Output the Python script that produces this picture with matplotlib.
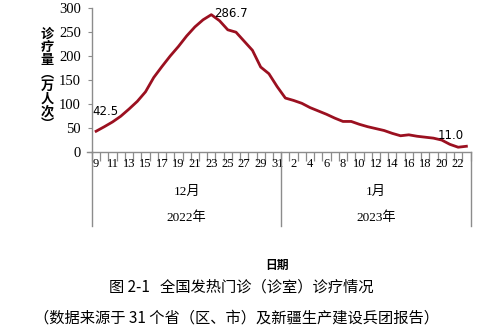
import matplotlib
matplotlib.use("Agg")
import matplotlib.pyplot as plt
import matplotlib.transforms as mtransforms

# daily fever-clinic visits (10k person-times), Dec 9 2022 .. Jan 23 2023
dec_days = list(range(9, 32))
jan_days = list(range(1, 24))
dec_values = [42.5, 52, 62, 74, 89, 105, 125, 155, 178, 200, 220, 242, 261, 276,
              286.7, 274, 255, 250, 231, 212, 177, 163, 136]
jan_values = [112, 107, 101, 92, 85, 78, 70, 63, 63, 57, 52, 48, 44, 38, 33, 35,
              32, 30, 28, 24, 15, 9, 11.0]
months = ["12月", "1月"]
years = ["2022年", "2023年"]
y_ticks = [0, 50, 100, 150, 200, 250, 300]

values = dec_values + jan_values
days = dec_days + jan_days
n = len(values)
xs = list(range(n))

serif = ["Liberation Serif", "Noto Sans CJK SC"]
cjk = ["Noto Sans CJK SC", "DejaVu Sans"]
grey = "#8c8c8c"
red = "#9b1020"

fig = plt.figure(figsize=(5, 3.33), dpi=100)
ax = fig.add_axes([0.184, 0.545, 0.757, 0.430])

ax.plot(xs, values, color=red, linewidth=2.0, solid_joinstyle="round")
ax.set_xlim(-0.5, n - 0.5)
ax.set_ylim(0, 300)

for s in ["top", "right"]:
    ax.spines[s].set_visible(False)
for s in ["left", "bottom"]:
    ax.spines[s].set_color(grey)
    ax.spines[s].set_linewidth(1.0)

ax.set_yticks(y_ticks)
ax.set_yticklabels([str(v) for v in y_ticks], family=serif, fontsize=10.5)
ax.tick_params(axis="y", direction="out", length=3, color=grey, pad=5)

# category boundaries as major ticks, labels at every second centre
ax.set_xticks([i - 0.5 for i in range(n + 1)])
ax.set_xticklabels([])
ax.tick_params(axis="x", which="major", direction="out", length=6.5, color=grey, width=0.9)
label_pos = xs[::2]
ax.set_xticks(label_pos, minor=True)
ax.set_xticklabels([str(days[i]) for i in label_pos], minor=True, family=serif, fontsize=9)
ax.tick_params(axis="x", which="minor", length=0, pad=5)

# group separators for months / years
trans = mtransforms.blended_transform_factory(ax.transData, ax.transAxes)
for xb in [-0.5, len(dec_values) - 0.5, n - 0.5]:
    ax.plot([xb, xb], [0, -0.52], transform=trans, color=grey, linewidth=1.0, clip_on=False)
ax.plot([-1.1, -0.5], [0, 0], transform=trans, color=grey, linewidth=1.0, clip_on=False)

centres = [(len(dec_values) - 1) / 2, len(dec_values) + (len(jan_values) - 1) / 2]
for c, m, yr in zip(centres, months, years):
    ax.text(c, -0.285, m, transform=trans, ha="center", va="center", family=serif, fontsize=9.5)
    ax.text(c, -0.46, yr, transform=trans, ha="center", va="center", family=serif, fontsize=9.5)

# data labels
ax.annotate("42.5", (0, values[0]), xytext=(7, 14), textcoords="offset points",
            ha="center", va="center", fontsize=8.5, family="DejaVu Sans")
peak = values.index(max(values))
ax.annotate("286.7", (peak, values[peak]), xytext=(2, 0.5), textcoords="offset points",
            ha="left", va="center", fontsize=8.5, family="DejaVu Sans")
ax.annotate("11.0", (n - 1, values[-1]), xytext=(-11, 7.5), textcoords="offset points",
            ha="center", va="center", fontsize=8.5, family="DejaVu Sans")

# stacked vertical y label
ylab = ["诊", "疗", "量", "︵", "万", "人", "次", "︶"]
for i, ch in enumerate(ylab):
    fig.text(47 / 500, 1 - (34 + 12.9 * i) / 333, ch, ha="center", va="center",
             family=cjk, fontsize=9.5, fontweight="bold")

fig.text(277 / 500, 1 - 265 / 333, "日期", ha="center", va="center", family=cjk,
         fontsize=8.5, fontweight="bold")
fig.text(241 / 500, 1 - 287 / 333, "图 2-1   全国发热门诊（诊室）诊疗情况",
         ha="center", va="center", family=cjk, fontsize=11)
fig.text(237 / 500, 1 - 318 / 333, "（数据来源于 31 个省（区、市）及新疆生产建设兵团报告）",
         ha="center", va="center", family=cjk, fontsize=11)

fig.savefig("out.png", dpi=100)
